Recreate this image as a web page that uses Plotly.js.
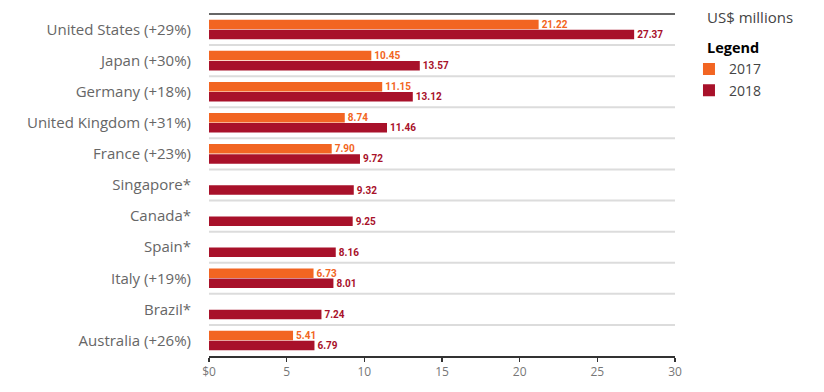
<!DOCTYPE html>
<html>
<head>
<meta charset="utf-8">
<script src="https://cdn.plot.ly/plotly-3.0.1.min.js"></script>
<style>html,body{margin:0;padding:0;background:#fff;}#chart{width:824px;height:392px;}</style>
</head>
<body>
<div id="chart"></div>
<script>
const countries = ["United States (+29%)", "Japan (+30%)", "Germany (+18%)", "United Kingdom (+31%)", "France (+23%)", "Singapore*", "Canada*", "Spain*", "Italy (+19%)", "Brazil*", "Australia (+26%)"];
const values2017 = [21.22, 10.45, 11.15, 8.74, 7.90, null, null, null, 6.73, null, 5.41];
const values2018 = [27.37, 13.57, 13.12, 11.46, 9.72, 9.32, 9.25, 8.16, 8.01, 7.24, 6.79];
const tickVals = [0, 5, 10, 15, 20, 25, 30];
const tickText = ["$0", "5", "10", "15", "20", "25", "30"];

const orange = "#F26522";
const red = "#A8112A";
const fmt = v => v == null ? "" : v.toFixed(2);

const traces = [
  {type: "bar", orientation: "h", name: "2017", y: countries, x: values2017,
   marker: {color: orange}, text: values2017.map(fmt), textposition: "outside",
   constraintext: "none", cliponaxis: false,
   textfont: {color: orange, size: 10, weight: "bold", family: "Roboto, sans-serif"}, hoverinfo: "x+y"},
  {type: "bar", orientation: "h", name: "2018", y: countries, x: values2018,
   marker: {color: red}, text: values2018.map(fmt), textposition: "outside",
   constraintext: "none", cliponaxis: false,
   textfont: {color: red, size: 10, weight: "bold", family: "Roboto, sans-serif"}, hoverinfo: "x+y"}
];

const shapes = [];
for (let i = 0; i < countries.length - 1; i++) {
  shapes.push({type: "line", xref: "paper", yref: "y", x0: 0, x1: 1, y0: i + 0.5, y1: i + 0.5,
    line: {color: "#dcdcdc", width: 2}, layer: "below"});
}
shapes.push({type: "line", xref: "paper", yref: "paper", x0: 0, x1: 1, y0: 1, y1: 1,
  line: {color: "#333333", width: 1.5}});

const layout = {
  width: 824, height: 392,
  margin: {l: 209, r: 149, t: 14, b: 36},
  paper_bgcolor: "#fff", plot_bgcolor: "#fff",
  font: {family: "'Open Sans', sans-serif", color: "#555"},
  barmode: "group", bargap: 0.35, bargroupgap: 0.06,
  showlegend: true,
  legend: {x: 1.03, xanchor: "left", y: 0.885, yanchor: "top",
    font: {size: 14, color: "#444"}, itemwidth: 30, tracegroupgap: 0},
  xaxis: {range: [0, 30], tickvals: tickVals, ticktext: tickText,
    showgrid: false, zeroline: false, showline: true, linecolor: "#333", linewidth: 1.5,
    ticks: "outside", ticklen: 4, tickcolor: "#333", tickwidth: 1.5,
    tickfont: {size: 12, color: "#777"}, fixedrange: true},
  yaxis: {type: "category", autorange: "reversed", showgrid: false, zeroline: false,
    showline: false, ticks: "", ticklabelstandoff: 17,
    tickfont: {size: 15, color: "#666"}, fixedrange: true},
  shapes: shapes,
  annotations: [
    {xref: "paper", yref: "paper", x: 1.064, y: 0.99, xanchor: "left", yanchor: "middle",
     text: "US$ millions", showarrow: false, font: {size: 15, color: "#444"}},
    {xref: "paper", yref: "paper", x: 1.064, y: 0.9006, xanchor: "left", yanchor: "middle",
     text: "<b>Legend</b>", showarrow: false, font: {size: 14.5, color: "#000"}}
  ]
};

Plotly.newPlot("chart", traces, layout, {displayModeBar: false, staticPlot: true});
</script>
</body>
</html>
